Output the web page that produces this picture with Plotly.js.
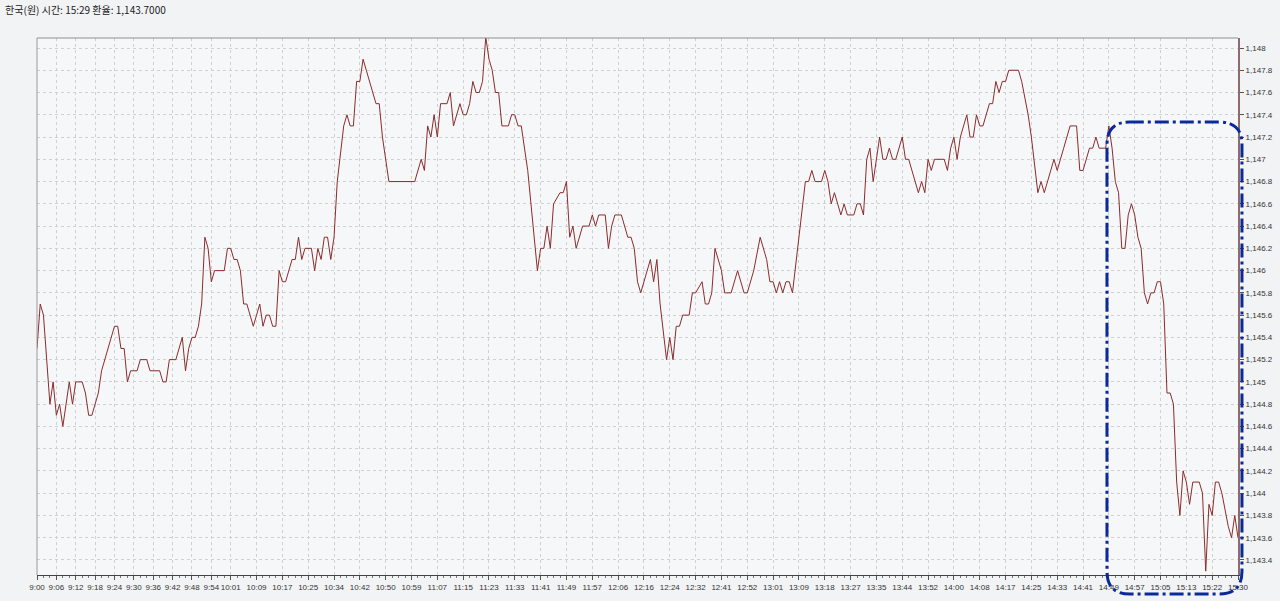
<!DOCTYPE html>
<html>
<head>
<meta charset="utf-8">
<script src="https://cdn.plot.ly/plotly-3.0.1.min.js"></script>
<style>
  html, body { margin: 0; padding: 0; background: #f2f3f5; }
  #chart { width: 1280px; height: 601px; }
</style>
</head>
<body>
<div id="chart"></div>
<script>
// Sample number (one per traded minute) and KRW rate at each vertex of the line
const sampleIdx = [
  0,1,2,4,5,6,7,8,10,11,12,14,15,16,17,19,20,24,25,26,27,28,29,31,32,34,35,38,39,40,
  41,43,45,46,47,48,49,50,51,52,53,54,55,58,59,60,61,62,63,64,65,67,69,70,71,72,73,74,75,76,
  77,79,80,81,82,83,85,86,87,88,89,90,91,92,93,95,96,97,98,99,100,101,102,104,105,106,107,109,117,119,
  120,121,122,123,124,125,127,128,129,131,132,133,134,135,136,137,138,139,140,141,142,143,144,146,147,148,149,150,152,155,
  156,157,158,159,160,162,163,164,165,166,167,169,171,172,173,174,176,177,178,179,181,183,184,185,186,187,190,191,192,193,
  195,196,197,198,199,200,202,203,204,206,207,208,209,210,212,213,215,217,219,220,222,224,226,227,228,229,230,231,232,233,
  234,238,239,240,241,243,244,245,246,247,249,250,251,253,254,255,256,257,258,259,260,261,262,263,264,265,266,268,269,270,
  273,274,275,276,277,278,281,282,283,284,285,286,288,289,290,291,292,293,295,296,297,298,299,300,301,304,305,307,308,310,
  311,312,315,316,318,320,322,323,324,325,326,327,328,329,331,332,333,334,335,336,337,338,339,340,341,342,343,344,345,346,
  347,348,349,350,351,352,353,354,355,356,357,358,360,361,362,363,364,365,366,367,369,370,371,372
];
const rate = [
  1145.3,1145.7,1145.6,1144.8,1145.0,1144.7,1144.8,1144.6,1145.0,1144.8,1145.0,1145.0,1144.9,1144.7,1144.7,1144.9,1145.1,1145.5,1145.5,1145.3,1145.3,1145.0,1145.1,1145.1,1145.2,1145.2,1145.1,1145.1,1145.0,1145.0,
  1145.2,1145.2,1145.4,1145.1,1145.3,1145.4,1145.4,1145.5,1145.7,1146.3,1146.2,1145.9,1146.0,1146.0,1146.2,1146.2,1146.1,1146.1,1146.0,1145.7,1145.7,1145.5,1145.7,1145.5,1145.6,1145.6,1145.5,1145.5,1146.0,1145.9,
  1145.9,1146.1,1146.1,1146.3,1146.1,1146.2,1146.2,1146.0,1146.2,1146.1,1146.3,1146.3,1146.1,1146.3,1146.8,1147.3,1147.4,1147.3,1147.3,1147.7,1147.7,1147.9,1147.8,1147.6,1147.5,1147.5,1147.2,1146.8,1146.8,1147.0,
  1146.9,1147.3,1147.2,1147.4,1147.2,1147.5,1147.5,1147.6,1147.3,1147.5,1147.4,1147.4,1147.5,1147.7,1147.6,1147.6,1147.7,1148.1,1147.9,1147.8,1147.6,1147.6,1147.3,1147.3,1147.4,1147.4,1147.3,1147.3,1146.9,1146.0,
  1146.2,1146.2,1146.4,1146.2,1146.6,1146.7,1146.7,1146.8,1146.3,1146.4,1146.2,1146.4,1146.4,1146.5,1146.4,1146.5,1146.5,1146.2,1146.4,1146.5,1146.5,1146.3,1146.3,1146.2,1145.9,1145.8,1146.1,1145.9,1146.1,1145.7,
  1145.2,1145.4,1145.2,1145.5,1145.5,1145.6,1145.6,1145.8,1145.8,1145.9,1145.7,1145.7,1145.8,1146.2,1146.0,1145.8,1145.8,1146.0,1145.8,1145.8,1146.0,1146.3,1146.1,1145.9,1145.9,1145.8,1145.9,1145.8,1145.9,1145.9,
  1145.8,1146.8,1146.8,1146.9,1146.8,1146.8,1146.9,1146.8,1146.6,1146.7,1146.5,1146.6,1146.5,1146.5,1146.6,1146.6,1146.5,1147.0,1147.1,1146.8,1147.0,1147.2,1147.0,1147.0,1147.1,1147.0,1147.0,1147.2,1147.0,1147.0,
  1146.7,1146.8,1146.7,1147.0,1146.9,1147.0,1147.0,1146.9,1147.1,1147.2,1147.0,1147.2,1147.4,1147.2,1147.2,1147.4,1147.3,1147.3,1147.5,1147.5,1147.7,1147.6,1147.7,1147.7,1147.8,1147.8,1147.7,1147.4,1147.2,1146.7,
  1146.8,1146.7,1147.0,1146.9,1147.1,1147.3,1147.3,1146.9,1146.9,1147.0,1147.1,1147.1,1147.2,1147.1,1147.1,1147.3,1147.1,1146.8,1146.7,1146.2,1146.2,1146.5,1146.6,1146.5,1146.3,1146.2,1145.8,1145.7,1145.8,1145.8,
  1145.9,1145.9,1145.7,1144.9,1144.9,1144.8,1144.1,1143.8,1144.2,1144.1,1143.9,1144.1,1144.1,1144.0,1143.3,1143.9,1143.8,1144.1,1144.1,1144.0,1143.7,1143.6,1143.8,1143.6
];
// Sample number at which each time label sits, and the labels
const tickSample = [0,6,12,18,24,30,36,42,48,54,60,68,76,84,92,100,108,116,124,132,140,148,156,164,172,180,188,196,204,212,
  220,228,236,244,252,260,268,276,284,292,300,308,316,324,332,340,348,356,364,372];
const tickLabel = ['9:00','9:06','9:12','9:18','9:24','9:30','9:36','9:42','9:48','9:54',
  '10:01','10:09','10:17','10:25','10:34','10:42','10:50','10:59','11:07','11:15',
  '11:23','11:33','11:41','11:49','11:57','12:06','12:16','12:24','12:32','12:41',
  '12:52','13:01','13:09','13:18','13:27','13:35','13:44','13:52','14:00','14:08',
  '14:17','14:25','14:33','14:41','14:49','14:57','15:05','15:13','15:22','15:30'];
const titleText = '한국(원) 시간: 15:29 환율: 1,143.7000';

// Highlight box (paper coordinates) with rounded corners
function roundedBox(x0, x1, yb, yt, rx, ry) {
  return 'M ' + (x0 + rx) + ' ' + yt +
    ' L ' + (x1 - rx) + ' ' + yt +
    ' Q ' + x1 + ' ' + yt + ' ' + x1 + ' ' + (yt - ry) +
    ' L ' + x1 + ' ' + (yb + ry) +
    ' Q ' + x1 + ' ' + yb + ' ' + (x1 - rx) + ' ' + yb +
    ' L ' + (x0 + rx) + ' ' + yb +
    ' Q ' + x0 + ' ' + yb + ' ' + x0 + ' ' + (yb + ry) +
    ' L ' + x0 + ' ' + (yt - ry) +
    ' Q ' + x0 + ' ' + yt + ' ' + (x0 + rx) + ' ' + yt + ' Z';
}

const trace = {
  x: sampleIdx,
  y: rate,
  type: 'scatter',
  mode: 'lines',
  line: { color: '#8a2c2c', width: 1 },
  hoverinfo: 'skip'
};

const tickFont = { family: 'Liberation Sans, Arial, sans-serif', size: 8, color: '#333' };

const layout = {
  width: 1280,
  height: 601,
  margin: { l: 37, r: 42, t: 38, b: 26, pad: 0 },
  paper_bgcolor: '#f2f3f5',
  plot_bgcolor: '#f6f7f9',
  showlegend: false,
  title: {
    text: titleText,
    x: 0.004, xanchor: 'left', xref: 'container',
    y: 0.983, yanchor: 'middle', yref: 'container',
    font: { family: 'Noto Sans CJK KR, sans-serif', size: 10, color: '#222' }
  },
  xaxis: {
    range: [0, 372],
    tickmode: 'array',
    tickvals: tickSample,
    ticktext: tickLabel,
    tickangle: 0,
    tickfont: tickFont,
    ticks: 'outside', ticklen: 4, tickcolor: '#555', tickwidth: 1,
    showgrid: true, gridcolor: '#d0d0d0', griddash: '3px,3px', gridwidth: 1,
    showline: true, linecolor: '#444', linewidth: 1,
    zeroline: false,
    minor: { tickmode: 'linear', tick0: 0, dtick: 2, ticks: 'outside', ticklen: 2, tickcolor: '#777', showgrid: false },
    fixedrange: true
  },
  yaxis: {
    side: 'right',
    range: [1143.265, 1148.09],
    tick0: 1143.4,
    dtick: 0.2,
    tickformat: ',.1~f',
    tickfont: tickFont,
    ticks: 'outside', ticklen: 4, tickcolor: '#555', tickwidth: 1,
    showgrid: true, gridcolor: '#d0d0d0', griddash: '3px,3px', gridwidth: 1,
    showline: true, linecolor: '#8c6c6c', linewidth: 2,
    zeroline: false,
    fixedrange: true
  },
  shapes: [
    { type: 'line', xref: 'paper', yref: 'paper', x0: 0, x1: 1, y0: 1, y1: 1, line: { color: '#8f8f8f', width: 1 } },
    { type: 'line', xref: 'paper', yref: 'paper', x0: 0, x1: 0, y0: 0, y1: 1, line: { color: '#9a9a9a', width: 1 } },
    {
      type: 'path', xref: 'paper', yref: 'paper', layer: 'above',
      path: roundedBox(0.8909, 1.0033, -0.0354, 0.8436, 0.019, 0.042),
      line: { color: '#0b2a9a', width: 3, dash: '14px,4px,3px,4px' }
    }
  ]
};

Plotly.newPlot('chart', [trace], layout, { staticPlot: true, displayModeBar: false });
</script>
</body>
</html>
